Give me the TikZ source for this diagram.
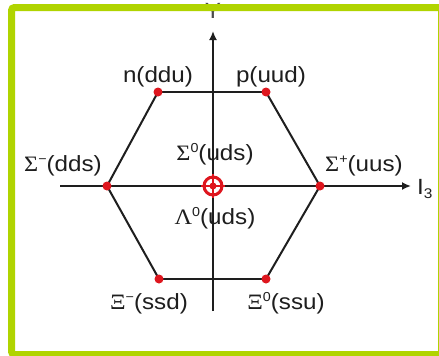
\documentclass[tikz,border=0pt]{standalone}
\usepackage{fontspec}
\setmainfont{Liberation Sans}[FakeStretch=1.1]
\newfontfamily\grk{Liberation Serif}[FakeStretch=1.1]
\usetikzlibrary{arrows.meta}
\definecolor{framegreen}{RGB}{176,212,0}
\definecolor{dotred}{RGB}{222,22,30}
\definecolor{ink}{RGB}{30,30,30}
\newcommand\upr[1]{\raisebox{0.62ex}{\fontsize{13}{13}\selectfont #1}}
\newcommand\lwr[1]{\raisebox{-0.38ex}{\fontsize{14}{14}\selectfont #1}}
\begin{document}
\begin{tikzpicture}[x=1pt,y=-1pt,
  lbl/.style={anchor=base,inner sep=0pt,text=ink,font=\fontsize{22}{24}\selectfont},
  dot/.style={circle,fill=dotred,inner sep=0pt,minimum size=9pt},
  edge/.style={draw=ink,line width=2pt},
  axis/.style={draw=ink,line width=2pt,-{Latex[length=9pt,width=8pt]}}]
\useasboundingbox (0,0) rectangle (439,356);
\clip (0,0) rectangle (439,356);
\fill[white] (0,0) rectangle (439,356);
% axis end points
\coordinate (ybot) at (213,311);
\coordinate (ytop) at (213,31);
\coordinate (xl) at (60,186);
\coordinate (xr) at (411,186);
\node[lbl,text=ink!80] (ylab) at (213,18) {Y};
\node[lbl,anchor=base west] (i3) at (417,194) {I\lwr{3}};
\path[axis] (ybot) -- (ytop);
\path[axis] (xl) -- (xr);
% hexagon vertices
\coordinate (n) at (158,92);
\coordinate (p) at (266,92);
\coordinate (sp) at (320,186);
\coordinate (x0) at (266,279);
\coordinate (xm) at (159,279);
\coordinate (sm) at (107,186);
\coordinate (c) at (213,186);
\draw[edge] (n) -- (p);
\draw[edge] (p) -- (sp);
\draw[edge] (sp) -- (x0);
\draw[edge] (x0) -- (xm);
\draw[edge] (xm) -- (sm);
\draw[edge] (sm) -- (n);
\foreach \v in {n,p,sp,x0,xm,sm} \node[dot] (d\v) at (\v) {};
% centre marker
\node[circle,draw=dotred,line width=3pt,minimum size=18pt,inner sep=0pt] (ring) at (c) {};
\draw[dotred,line width=1.6pt] ([yshift=-12pt]c) -- ([yshift=12pt]c);
\draw[dotred,line width=1.6pt] ([xshift=-12pt]c) -- ([xshift=12pt]c);
\node[dot,minimum size=7pt] (cdot) at (c) {};
% labels
\node[lbl] (ln) at (158,82) {n(ddu)};
\node[lbl] (lp) at (271,82) {p(uud)};
\node[lbl] (lsm) at (63,171) {{\grk Σ}\upr{−}(dds)};
\node[lbl] (lsp) at (364,171) {{\grk Σ}\upr{+}(uus)};
\node[lbl] (ls0) at (215,160) {{\grk Σ}\upr{0}(uds)};
\node[lbl] (ll0) at (215,224) {{\grk Λ}\upr{0}(uds)};
\node[lbl] (lxm) at (149,309) {{\grk Ξ}\upr{−}(ssd)};
\node[lbl] (lx0) at (286,309) {{\grk Ξ}\upr{0}(ssu)};
% frame
\draw[framegreen,line width=7pt,rounded corners=3pt] (11.5,7.5) rectangle (441.5,354.5);
\end{tikzpicture}
\end{document}
